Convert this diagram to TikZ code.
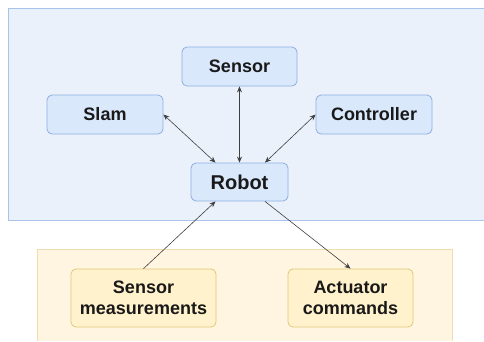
\documentclass[tikz,border=0pt]{standalone}
\usepackage{fontspec}
\setmainfont{Liberation Sans}
\usetikzlibrary{arrows.meta}
\definecolor{bluebg}{HTML}{EAF1FB}
\definecolor{blueframe}{HTML}{A9C4EB}
\definecolor{bluefill}{HTML}{DAE8FC}
\definecolor{blueline}{HTML}{8EAEE0}
\definecolor{yellowbg}{HTML}{FFF5E0}
\definecolor{yellowframe}{HTML}{EDDDB0}
\definecolor{yellowfill}{HTML}{FFF2CC}
\definecolor{yellowline}{HTML}{E0C878}
\tikzset{
  box/.style={rounded corners=5pt, line width=0.8pt, inner sep=0pt, align=center,
    font=\bfseries\fontsize{18}{21}\selectfont, text=black!90},
  bluebox/.style={box, fill=bluefill, draw=blueline},
  yellowbox/.style={box, fill=yellowfill, draw=yellowline},
  link/.style={draw=black!75, line width=0.6pt, -{Stealth[length=6pt,width=5pt]}},
  twoway/.style={link, {Stealth[length=6pt,width=5pt]}-{Stealth[length=6pt,width=5pt]}}
}
\begin{document}
\begin{tikzpicture}[x=1pt, y=-1pt]
  \useasboundingbox (0,0) rectangle (484,341);
  % group panels
  \fill[bluebg] (8,8) rectangle (484,220);
  \draw[blueframe, line width=1pt] (484,8) -- (8,8) -- (8,220) -- (484,220);
  \fill[yellowbg] (37,249) rectangle (452,341);
  \draw[yellowframe, line width=1pt] (37,341) -- (37,249) -- (452,249) -- (452,341);
  % components
  \node[bluebox, minimum width=115pt, minimum height=39pt] (sensor) at (239.5,66.5) {Sensor};
  \node[bluebox, minimum width=116pt, minimum height=39pt] (slam) at (105,114.5) {Slam};
  \node[bluebox, minimum width=116pt, minimum height=39pt] (ctrl) at (374,114.5) {Controller};
  \node[bluebox, minimum width=97pt, minimum height=38pt,
        font=\bfseries\fontsize{20}{24}\selectfont] (robot) at (239.5,182) {Robot};
  \node[yellowbox, minimum width=145pt, minimum height=58pt] (meas) at (143.5,298) {Sensor\\measurements};
  \node[yellowbox, minimum width=125pt, minimum height=58pt] (act) at (350.5,298) {Actuator\\commands};
  % connectors
  \coordinate (rtl) at ([xshift=-24pt]robot.north);
  \coordinate (rtr) at ([xshift=25.5pt]robot.north);
  \coordinate (rbl) at ([xshift=-24pt]robot.south);
  \coordinate (rbr) at ([xshift=25.5pt]robot.south);
  \draw[twoway] (slam.east) -- (rtl);
  \draw[twoway] (sensor.south) -- (robot.north);
  \draw[twoway] (ctrl.west) -- (rtr);
  \draw[link] (meas.north) -- (rbl);
  \draw[link] (rbr) -- (act.north);
\end{tikzpicture}
\end{document}
